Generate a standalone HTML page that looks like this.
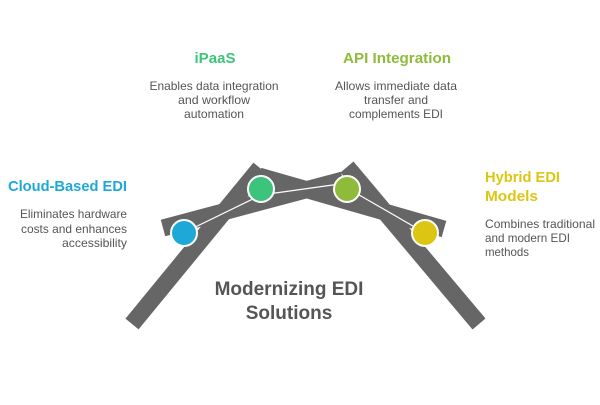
<!DOCTYPE html>
<html><head><style>
body{margin:0;background:#fff;}
svg text{font-family:"Liberation Sans",sans-serif;}
</style></head><body>
<svg width="600" height="400" viewBox="0 0 600 400" xmlns="http://www.w3.org/2000/svg">
<g stroke="#666" stroke-width="17" stroke-linecap="butt" fill="none">
<line x1="259" y1="176" x2="444" y2="229"/>
<line x1="163" y1="228" x2="343" y2="180"/>
<line x1="132" y1="324" x2="260" y2="168"/>
<line x1="347" y1="167" x2="479" y2="324"/>
</g>
<g stroke="#fff" stroke-width="1.2">
<line x1="183" y1="233" x2="261" y2="195"/>
<line x1="261" y1="195" x2="347" y2="183"/>
<line x1="347" y1="188" x2="425" y2="233"/>
</g>
<g stroke="#fff" stroke-width="2">
<circle cx="184" cy="233" r="13" fill="#1ea8d8"/>
<circle cx="261" cy="189" r="13" fill="#3cc47c"/>
<circle cx="347" cy="189" r="13" fill="#8fbb3a"/>
<circle cx="425" cy="233" r="13" fill="#dcc613"/>
</g>
<text x="289" y="295" font-size="19" font-weight="bold" fill="#555" text-anchor="middle">Modernizing EDI</text>
<text x="289" y="319" font-size="19" font-weight="bold" fill="#555" text-anchor="middle">Solutions</text>
<g font-size="12" fill="#555" lengthAdjust="spacingAndGlyphs">
<text x="214" y="90" text-anchor="middle" textLength="129" lengthAdjust="spacingAndGlyphs">Enables data integration</text>
<text x="214" y="104" text-anchor="middle" textLength="72" lengthAdjust="spacingAndGlyphs">and workflow</text>
<text x="214" y="118" text-anchor="middle" textLength="60" lengthAdjust="spacingAndGlyphs">automation</text>
<text x="396" y="90" text-anchor="middle" textLength="122" lengthAdjust="spacingAndGlyphs">Allows immediate data</text>
<text x="396" y="104" text-anchor="middle" textLength="64" lengthAdjust="spacingAndGlyphs">transfer and</text>
<text x="396" y="118" text-anchor="middle" textLength="94" lengthAdjust="spacingAndGlyphs">complements EDI</text>
<text x="127" y="218" text-anchor="end" textLength="107" lengthAdjust="spacingAndGlyphs">Eliminates hardware</text>
<text x="127" y="233" text-anchor="end" textLength="106" lengthAdjust="spacingAndGlyphs">costs and enhances</text>
<text x="127" y="247" text-anchor="end" textLength="65" lengthAdjust="spacingAndGlyphs">accessibility</text>
<text x="485" y="228" textLength="110" lengthAdjust="spacingAndGlyphs">Combines traditional</text>
<text x="485" y="242" textLength="85" lengthAdjust="spacingAndGlyphs">and modern EDI</text>
<text x="485" y="256" textLength="44" lengthAdjust="spacingAndGlyphs">methods</text>
</g>
<g font-size="15" font-weight="bold">
<text x="215" y="63" text-anchor="middle" fill="#3cc47c" textLength="41" lengthAdjust="spacingAndGlyphs">iPaaS</text>
<text x="397" y="63" text-anchor="middle" fill="#8fbb3a" textLength="108" lengthAdjust="spacingAndGlyphs">API Integration</text>
<text x="127" y="191" text-anchor="end" fill="#1ea8d8" textLength="119" lengthAdjust="spacingAndGlyphs">Cloud-Based EDI</text>
<text x="485" y="182" fill="#dcc613" textLength="75" lengthAdjust="spacingAndGlyphs">Hybrid EDI</text>
<text x="485" y="201" fill="#dcc613" textLength="53" lengthAdjust="spacingAndGlyphs">Models</text>
</g>
</svg>
</body></html>
